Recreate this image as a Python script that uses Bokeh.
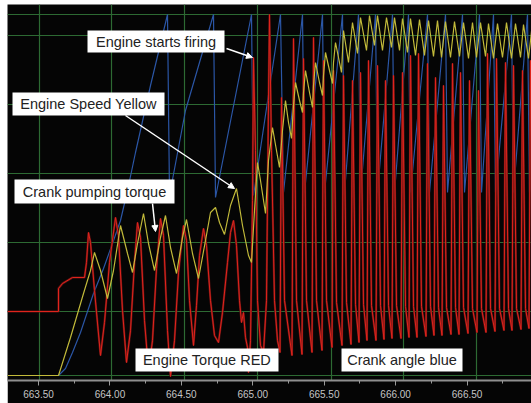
from bokeh.plotting import figure
from bokeh.models import (Range1d, FixedTicker, PrintfTickFormatter, Grid,
                          BoxAnnotation, Label, Arrow, NormalHead)
from bokeh.embed import file_html
from bokeh.resources import INLINE

# ---------------- data (time in s, signal level in arbitrary units) ----------------
tick_times = [663.5, 664.0, 664.5, 665.0, 665.5, 666.0, 666.5]
minor_times = [663.25, 663.75, 664.25, 664.75, 665.25, 665.75, 666.25, 666.75]
grid_times = [663.507, 664.011, 664.522, 665.033, 665.551, 666.055, 666.566]
grid_levels = [5, 69, 138, 207, 276, 345, 366]

# Engine speed (yellow)
yellow_t = [663.283, 663.640, 663.724, 663.815, 663.864, 663.892, 663.934, 663.983, 664.025, 664.074,
            664.123, 664.158, 664.193, 664.235, 664.270, 664.312, 664.354, 664.389, 664.424, 664.466,
            664.508, 664.536, 664.578, 664.620, 664.669, 664.704, 664.739, 664.767, 664.802, 664.844,
            664.886, 664.928, 664.970, 664.991, 665.012, 665.033, 665.054, 665.089, 665.110, 665.138,
            665.166, 665.187, 665.208, 665.229, 665.250, 665.271, 665.285, 665.299, 665.327, 665.348,
            665.355, 665.369, 665.397, 665.418, 665.425, 665.439, 665.467, 665.488, 665.495, 665.509,
            665.537, 665.558, 665.565, 665.579, 665.607, 665.621, 665.635, 665.670, 665.698, 665.733,
            665.754, 665.796, 665.817, 665.852, 665.873, 665.908, 665.936, 665.971, 665.992, 666.027,
            666.048, 666.083, 666.104, 666.139, 666.167, 666.202, 666.230, 666.265, 666.293, 666.321,
            666.349, 666.384, 666.412, 666.447, 666.475, 666.510, 666.538, 666.566, 666.594, 666.629,
            666.650, 666.685, 666.713, 666.748, 666.776, 666.811, 666.839, 666.874, 666.895, 666.930,
            666.958]
yellow_v = [5, 5, 43, 87, 110, 128, 110, 82, 110, 155,
            127, 108, 137, 167, 137, 110, 143, 165, 133, 107,
            143, 161, 127, 102, 140, 168, 173, 158, 146, 175,
            192, 155, 125, 118, 170, 218, 200, 167, 220, 253,
            230, 213, 250, 280, 258, 242, 275, 298, 280, 268,
            288, 310, 288, 273, 295, 318, 298, 285, 305, 328,
            310, 297, 318, 338, 318, 308, 350, 318, 358, 327,
            363, 330, 365, 335, 365, 330, 363, 333, 363, 330,
            362, 328, 362, 325, 361, 325, 360, 324, 360, 323,
            359, 323, 359, 324, 358, 322, 358, 323, 358, 324,
            357, 322, 357, 323, 358, 322, 357, 323, 356, 322,
            358]

# Crank angle (blue)
blue_t = [663.640, 663.689, 663.738, 663.794, 663.885, 663.955, 664.018, 664.074, 664.123, 664.179,
          664.284, 664.403, 664.417, 664.529, 664.725, 664.739, 664.991, 665.005, 665.194, 665.215,
          665.348, 665.362, 665.488, 665.502, 665.628, 665.642, 665.740, 665.754, 665.859, 665.873,
          665.978, 665.992, 666.090, 666.104, 666.223, 666.237, 666.349, 666.363, 666.468, 666.482,
          666.587, 666.601, 666.685, 666.699, 666.811, 666.825, 666.923, 666.937, 667.042]
blue_v = [5, 12, 28, 48, 87, 112, 137, 160, 190, 228,
          295, 366, 185, 270, 366, 183, 366, 185, 366, 188,
          366, 188, 366, 188, 366, 188, 366, 188, 366, 188,
          366, 188, 366, 188, 366, 188, 366, 188, 366, 188,
          366, 188, 366, 188, 366, 188, 366, 188, 366]

# Engine torque (red)
red_t = [663.283, 663.640, 663.640, 663.668, 663.738, 663.822, 663.836, 663.850, 663.864, 663.892,
         663.934, 663.962, 663.997, 664.039, 664.060, 664.088, 664.116, 664.144, 664.172, 664.193,
         664.214, 664.242, 664.270, 664.298, 664.326, 664.354, 664.375, 664.403, 664.424, 664.452,
         664.480, 664.515, 664.536, 664.557, 664.585, 664.606, 664.627, 664.655, 664.676, 664.704,
         664.732, 664.760, 664.788, 664.823, 664.844, 664.865, 664.886, 664.907, 664.921, 664.935,
         664.949, 664.963, 664.970, 664.984, 664.998, 665.005, 665.019, 665.033, 665.054, 665.075,
         665.096, 665.110, 665.117, 665.131, 665.152, 665.173,
         665.1905, 665.201, 665.222,
         665.2745, 665.285, 665.306,
         665.3445, 665.355, 665.376,
         665.4145, 665.425, 665.446,
         665.4845, 665.495, 665.516,
         665.5545, 665.565, 665.586,
         665.6245, 665.635, 665.656,
         665.6875, 665.698, 665.719,
         665.7435, 665.754, 665.775,
         665.7995, 665.810, 665.831,
         665.8625, 665.873, 665.894,
         665.9185, 665.929, 665.950,
         665.9745, 665.985, 666.006,
         666.0375, 666.048, 666.069,
         666.0935, 666.104, 666.125,
         666.1495, 666.160, 666.181,
         666.2125, 666.223, 666.244,
         666.2685, 666.279, 666.300,
         666.3245, 666.335, 666.356,
         666.3875, 666.398, 666.419,
         666.4435, 666.454, 666.475,
         666.5065, 666.517, 666.538,
         666.5695, 666.580, 666.601,
         666.6325, 666.643, 666.664,
         666.6955, 666.706, 666.727,
         666.7585, 666.769, 666.790,
         666.8145, 666.825, 666.846,
         666.8775, 666.888, 666.909,
         666.9335, 666.944, 666.965]
red_v = [69, 69, 92, 97, 103, 103, 118, 148, 138, 90,
         25, 58, 118, 163, 145, 70, 18, 50, 118, 158,
         143, 60, 10, 40, 112, 162, 145, 50, 4, 40,
         108, 155, 140, 80, 35, 75, 125, 152, 135, 80,
         45, 38, 68, 118, 148, 160, 135, 80, 58, 68,
         43, 33, 8, 40, 180, 323, 230, 80, 35, 28,
         80, 280, 366, 230, 80, 40,
         28, 283, 80,
         25, 342, 80,
         26, 322, 80,
         28, 343, 80,
         30, 320, 80,
         33, 310, 78,
         35, 305, 78,
         36, 300, 76,
         38, 308, 76,
         40, 320, 75,
         40, 315, 75,
         41, 300, 75,
         42, 305, 75,
         42, 308, 74,
         43, 325, 74,
         43, 327, 74,
         44, 317, 74,
         45, 303, 73,
         45, 295, 73,
         46, 317, 73,
         46, 308, 73,
         47, 300, 72,
         48, 290, 72,
         48, 327, 72,
         49, 322, 72,
         50, 318, 72,
         50, 315, 72,
         51, 310, 72,
         52, 320, 72]

# ---------------- figure ----------------
p = figure(width=524, height=399,
           x_range=Range1d(663.283, 666.951), y_range=Range1d(0, 376),
           output_backend="svg", toolbar_location=None, y_axis_type=None,
           min_border_left=0, min_border_right=0, min_border_top=0, min_border_bottom=23,
           background_fill_color="#050505", border_fill_color="#050505",
           outline_line_color=None, margin=(4, 0, 0, 7))

ax = p.xaxis[0]
ax.ticker = FixedTicker(ticks=tick_times, minor_ticks=minor_times)
ax.formatter = PrintfTickFormatter(format="%.2f")
ax.axis_line_color = "#8f8f8f"
ax.axis_line_width = 2
ax.major_tick_line_color = "#9a9a9a"
ax.major_tick_out = 5
ax.major_tick_in = 0
ax.minor_tick_line_color = "#9a9a9a"
ax.minor_tick_out = 3
ax.minor_tick_in = 0
ax.major_label_text_color = "#c4c4c4"
ax.major_label_text_font = "Liberation Sans Narrow, Liberation Sans"
ax.major_label_text_font_size = "10px"
ax.major_label_standoff = 4

p.xgrid.ticker = FixedTicker(ticks=grid_times)
p.xgrid.grid_line_color = "#2d6a33"
p.xgrid.grid_line_width = 1.2
p.add_layout(Grid(dimension=1, ticker=FixedTicker(ticks=grid_levels),
                  grid_line_color="#2d6a33", grid_line_width=1.2))

p.line(blue_t, blue_v, line_color="#2b56a6", line_width=1.2)
p.line(red_t, red_v, line_color="#5e1212", line_width=2.2)
p.line(red_t, red_v, line_color="#e0241c", line_width=1.0)
p.line(yellow_t, yellow_v, line_color="#c2ba3a", line_width=1.2)

# ---------------- annotations ----------------
boxes = [
    (663.843, 664.802, 328, 350, 664.3225, 339, "Engine starts firing"),
    (663.318, 664.382, 265, 288, 663.850, 276.5, "Engine Speed Yellow"),
    (663.332, 664.452, 177, 201, 663.892, 189, "Crank pumping torque"),
    (664.179, 665.180, 9, 32, 664.6795, 20.5, "Engine Torque RED"),
    (665.621, 666.468, 9, 32, 666.0445, 20.5, "Crank angle blue"),
]
for l, r, b, t, cx, cy, _ in boxes:
    p.add_layout(BoxAnnotation(left=l, right=r, bottom=b, top=t,
                               fill_color="white", fill_alpha=1.0, line_color=None))

arrows = [
    (664.816, 332, 664.998, 323),
    (664.109, 265, 664.872, 192),
    (664.298, 177, 664.319, 149),
]
for xs, ys, xe, ye in arrows:
    p.add_layout(Arrow(x_start=xs, y_start=ys, x_end=xe, y_end=ye,
                       line_color="white", line_width=1.5,
                       end=NormalHead(size=6, fill_color="white", line_color="white")))

for l, r, b, t, cx, cy, txt in boxes:
    p.add_layout(Label(x=cx, y=cy, text=txt, text_align="center", text_baseline="middle",
                       text_font="Liberation Sans", text_font_size="14.5px",
                       text_color="#222222"))

open("out.html", "w").write(file_html(p, INLINE))
